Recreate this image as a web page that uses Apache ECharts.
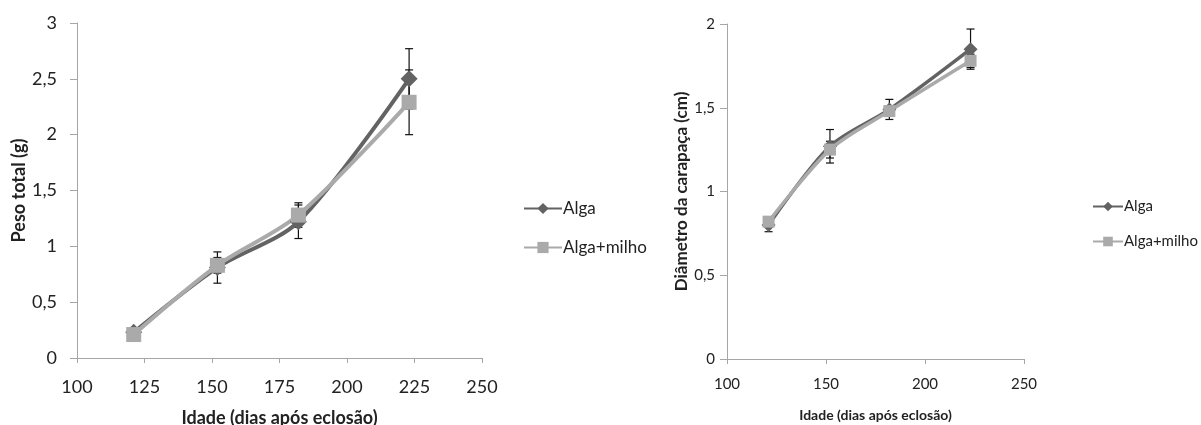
<!DOCTYPE html>
<html>
<head>
<meta charset="utf-8">
<script src="https://cdn.jsdelivr.net/npm/echarts@6/dist/echarts.min.js"></script>
<style>
html,body{margin:0;padding:0;background:#fff;}
#chart{width:1201px;height:425px;}
</style>
</head>
<body>
<div id="chart"></div>
<script>
// ---- data ----
const days = [121, 152, 182, 223];
const pesoAlga = [0.23, 0.81, 1.22, 2.50];
const pesoAlgaErr = [0.04, 0.14, 0.15, 0.27];
const pesoMilho = [0.21, 0.83, 1.28, 2.29];
const pesoMilhoErr = [0.03, 0.07, 0.11, 0.29];
const diamAlga = [0.80, 1.27, 1.49, 1.85];
const diamAlgaErr = [0.04, 0.10, 0.06, 0.12];
const diamMilho = [0.82, 1.25, 1.48, 1.78];
const diamMilhoErr = [0.03, 0.05, 0.03, 0.04];
const seriesNames = ['Alga', 'Alga+milho'];
const xTitle = 'Idade (dias após eclosão)';
const yTitleLeft = 'Peso total (g)';
const yTitleRight = 'Diâmetro da carapaça (cm)';

const FONT = 'Lato, "Open Sans", sans-serif';
const C_ALGA = '#636363';
const C_MILHO = '#aaaaaa';
const AXIS_C = '#a6a6a6';

function pts(xs, ys) { return xs.map((x, i) => [x, ys[i]]); }
function errData(xs, ys, es) { return xs.map((x, i) => [x, ys[i] - es[i], ys[i] + es[i]]); }
const comma = v => String(v).replace('.', ',');

function errSeries(xi, yi, data) {
  return {
    type: 'custom', xAxisIndex: xi, yAxisIndex: yi, z: 3, silent: true,
    data: data,
    renderItem: function (params, api) {
      const x = api.value(0);
      const lo = api.coord([x, api.value(1)]);
      const hi = api.coord([x, api.value(2)]);
      const w = 4;
      const st = { stroke: '#111', lineWidth: 1.2 };
      return { type: 'group', children: [
        { type: 'line', shape: { x1: lo[0], y1: lo[1], x2: hi[0], y2: hi[1] }, style: st },
        { type: 'line', shape: { x1: lo[0] - w, y1: lo[1], x2: lo[0] + w, y2: lo[1] }, style: st },
        { type: 'line', shape: { x1: hi[0] - w, y1: hi[1], x2: hi[0] + w, y2: hi[1] }, style: st }
      ]};
    }
  };
}

function lineSeries(name, xi, yi, data, color, symbol, size, lw) {
  return {
    name: name, type: 'line', xAxisIndex: xi, yAxisIndex: yi, data: data,
    smooth: 0.3, symbol: symbol, symbolSize: size, z: 4,
    lineStyle: { color: color, width: lw },
    itemStyle: { color: color },
    emphasis: { disabled: true }
  };
}

function xAxis(gi, interval, fs, margin, nameGap, nameFs) {
  return {
    type: 'value', gridIndex: gi, min: 100, max: 250, interval: interval,
    name: xTitle, nameLocation: 'middle', nameGap: nameGap,
    nameTextStyle: { fontFamily: FONT, fontWeight: 'bold', fontSize: nameFs, color: '#222' },
    axisLine: { show: true, lineStyle: { color: AXIS_C, width: 1 } },
    axisTick: { show: true, inside: false, length: 5, lineStyle: { color: AXIS_C } },
    axisLabel: { fontFamily: FONT, fontSize: fs, color: '#222', margin: margin },
    splitLine: { show: false }
  };
}
function yAxis(gi, max, fs, margin, name, nameGap, nameFs) {
  return {
    type: 'value', gridIndex: gi, min: 0, max: max, interval: 0.5,
    name: name, nameLocation: 'middle', nameGap: nameGap, nameRotate: 90,
    nameTextStyle: { fontFamily: FONT, fontWeight: 'bold', fontSize: nameFs, color: '#222' },
    axisLine: { show: true, lineStyle: { color: AXIS_C, width: 1 } },
    axisTick: { show: true, inside: false, length: 7, lineStyle: { color: AXIS_C } },
    axisLabel: { fontFamily: FONT, fontSize: fs, color: '#222', margin: margin, formatter: comma },
    splitLine: { show: false }
  };
}

const chart = echarts.init(document.getElementById('chart'), null, { renderer: 'canvas' });
chart.setOption({
  backgroundColor: '#fff',
  animation: false,
  grid: [
    { left: 77, top: 23, width: 405, height: 335, containLabel: false, outerBoundsMode: 'none' },
    { left: 727, top: 24, width: 297, height: 335, containLabel: false, outerBoundsMode: 'none' }
  ],
  xAxis: [xAxis(0, 25, 18, 20, 51, 18), xAxis(1, 50, 15, 18, 49, 14)],
  yAxis: [yAxis(0, 3, 18, 20, yTitleLeft, 48, 18), yAxis(1, 2, 15, 12, yTitleRight, 35, 17)],
  legend: [
    { data: seriesNames.map(n => ({ name: n })), orient: 'vertical', left: 518, top: 195,
      itemWidth: 38, itemHeight: 14, itemGap: 22, selectedMode: false,
      textStyle: { fontFamily: FONT, fontSize: 17, color: '#222', padding: [0, 0, 0, -4] } },
    { data: seriesNames.map(n => ({ name: n })), orient: 'vertical', left: 1087, top: 194,
      itemWidth: 30, itemHeight: 12, itemGap: 20, selectedMode: false,
      textStyle: { fontFamily: FONT, fontSize: 15, color: '#222', padding: [0, 0, 0, -4] } }
  ],
  series: [
    lineSeries('Alga', 0, 0, pts(days, pesoAlga), C_ALGA, 'diamond', 17, 4),
    errSeries(0, 0, errData(days, pesoAlga, pesoAlgaErr)),
    lineSeries('Alga+milho', 0, 0, pts(days, pesoMilho), C_MILHO, 'rect', 15, 4),
    errSeries(0, 0, errData(days, pesoMilho, pesoMilhoErr)),
    lineSeries('Alga', 1, 1, pts(days, diamAlga), C_ALGA, 'diamond', 14, 3.5),
    errSeries(1, 1, errData(days, diamAlga, diamAlgaErr)),
    lineSeries('Alga+milho', 1, 1, pts(days, diamMilho), C_MILHO, 'rect', 12, 3.5),
    errSeries(1, 1, errData(days, diamMilho, diamMilhoErr))
  ]
});
</script>
</body>
</html>
